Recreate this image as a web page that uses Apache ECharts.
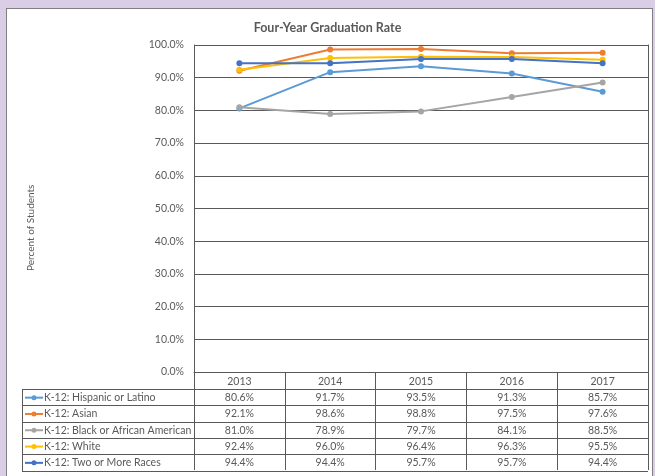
<!DOCTYPE html>
<html>
<head>
<meta charset="utf-8">
<script src="https://cdn.jsdelivr.net/npm/echarts@6/dist/echarts.min.js"></script>
<style>
html, body { margin: 0; padding: 0; background: #dacee6; overflow: hidden; }
#panel { position: absolute; left: 6px; top: 8px; width: 645px; height: 480px; background: #fff; border: 1px solid #7f7f7f; }
#main { position: absolute; left: 0; top: 0; width: 655px; height: 476px; }
</style>
</head>
<body>
<div id="panel"></div>
<div id="main"></div>
<script>
// chart data
var years = ['2013', '2014', '2015', '2016', '2017']
var groupNames = [
  'K-12: Hispanic or Latino',
  'K-12: Asian',
  'K-12: Black or African American',
  'K-12: White',
  'K-12: Two or More Races'
]
var hispanic = [80.6, 91.7, 93.5, 91.3, 85.7]
var asian = [92.1, 98.6, 98.8, 97.5, 97.6]
var black = [81.0, 78.9, 79.7, 84.1, 88.5]
var white = [92.4, 96.0, 96.4, 96.3, 95.5]
var twoOrMore = [94.4, 94.4, 95.7, 95.7, 94.4]
var colors = ['#5b9bd5', '#ed7d31', '#a5a5a5', '#ffc000', '#4472c4']

var FONT = 'Lato'
var LINE = '#595959'
var TEXT = '#595959'
var FS = 10.5

var chart = echarts.init(document.getElementById('main'))
var seriesData = [hispanic, asian, black, white, twoOrMore]

var series = seriesData.map(function (values, i) {
  return {
    name: groupNames[i],
    type: 'line',
    data: values,
    symbol: 'circle',
    symbolSize: 6,
    lineStyle: { width: 2, color: colors[i] },
    itemStyle: { color: colors[i] },
    emphasis: { disabled: true },
    animation: false
  }
})

chart.setOption({
  animation: false,
  textStyle: { fontFamily: FONT },
  title: {
    text: 'Four-Year Graduation Rate',
    left: 'center',
    top: 16,
    textStyle: { fontFamily: FONT, fontSize: 12.5, fontWeight: 'bold', color: TEXT }
  },
  grid: { left: 194, right: 7, top: 45, bottom: 104, containLabel: false, outerBoundsMode: 'none' },
  xAxis: {
    type: 'category',
    data: years,
    boundaryGap: true,
    axisLine: { show: true, lineStyle: { color: LINE, width: 1 } },
    axisTick: { show: true, interval: 0, length: 98, lineStyle: { color: LINE, width: 1 } },
    axisLabel: { margin: 4, fontSize: FS, color: TEXT, fontFamily: FONT },
    splitLine: { show: false }
  },
  yAxis: [{
    type: 'value',
    min: 0,
    max: 100,
    interval: 10,
    axisLine: { show: true, lineStyle: { color: LINE, width: 1 } },
    axisTick: { show: false },
    axisLabel: {
      margin: 10,
      fontSize: FS,
      color: TEXT,
      fontFamily: FONT,
      formatter: function (v) { return v.toFixed(1) + '%' }
    },
    splitLine: { show: true, lineStyle: { color: LINE, width: 1 } }
  }, {
    type: 'value',
    position: 'right',
    min: 0,
    max: 100,
    interval: 10,
    axisLine: { show: true, lineStyle: { color: LINE, width: 1 } },
    axisTick: { show: false },
    axisLabel: { show: false },
    splitLine: { show: false }
  }],
  series: series
})

// data table under the plot, plus the axis title centred on plot + table
var drawTable = function () {
  var gridRight = 655 - 7
  var axisY = chart.convertToPixel({ yAxisIndex: 0 }, 0)
  var topY = chart.convertToPixel({ yAxisIndex: 0 }, 100)
  var tableTop = axisY + 17
  var rowH = 16.3
  var legendLeft = 22
  var crisp = function (v) { return Math.round(v) + 0.5 }
  var tableBottom = tableTop + groupNames.length * rowH
  var els = []
  els.push({
    type: 'text',
    x: 31,
    y: (topY + tableBottom) / 2 - 30,
    rotation: Math.PI / 2,
    style: { text: 'Percent of Students', fill: TEXT, fontSize: 10, fontFamily: FONT, align: 'center', verticalAlign: 'middle' },
    silent: true
  })
  for (var r = 0; r <= groupNames.length; r++) {
    var y = crisp(tableTop + r * rowH)
    els.push({
      type: 'line',
      shape: { x1: legendLeft, y1: y, x2: gridRight, y2: y },
      style: { stroke: LINE, lineWidth: 1 },
      silent: true
    })
  }
  els.push({
    type: 'line',
    shape: { x1: crisp(legendLeft), y1: crisp(tableTop), x2: crisp(legendLeft), y2: crisp(tableBottom) },
    style: { stroke: LINE, lineWidth: 1 },
    silent: true
  })
  groupNames.forEach(function (name, i) {
    var cy = tableTop + i * rowH + rowH / 2 + 0.5
    els.push({
      type: 'line',
      shape: { x1: legendLeft + 3, y1: cy, x2: legendLeft + 21, y2: cy },
      style: { stroke: colors[i], lineWidth: 2 },
      silent: true
    })
    els.push({
      type: 'circle',
      shape: { cx: legendLeft + 12, cy: cy, r: 2.5 },
      style: { fill: colors[i] },
      silent: true
    })
    els.push({
      type: 'text',
      x: legendLeft + 22,
      y: cy,
      style: { text: name, fill: TEXT, fontSize: FS, fontFamily: FONT, verticalAlign: 'middle', align: 'left' },
      silent: true
    })
    seriesData[i].forEach(function (v, j) {
      var cx = chart.convertToPixel({ xAxisIndex: 0 }, j)
      els.push({
        type: 'text',
        x: cx,
        y: cy,
        style: { text: v.toFixed(1) + '%', fill: TEXT, fontSize: FS, fontFamily: FONT, verticalAlign: 'middle', align: 'center' },
        silent: true
      })
    })
  })
  chart.setOption({ graphic: { elements: els } })
}
drawTable()
</script>
</body>
</html>
